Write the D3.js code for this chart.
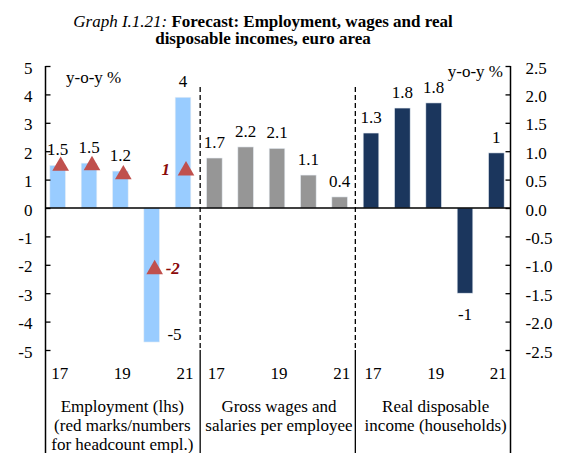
<!DOCTYPE html>
<html>
<head>
<meta charset="utf-8">
<script src="https://cdn.jsdelivr.net/npm/d3@7"></script>
<style>
  body { margin: 0; background: #fff; }
  svg { display: block; }
  svg text { font-family: "Liberation Serif", "Times New Roman", "DejaVu Serif", serif !important; fill: #000; }
</style>
</head>
<body>
<svg id="chart" width="561" height="453" font-family="Liberation Serif, serif"></svg>
<script>
// ---- data ----
const years = ["17", "18", "19", "20", "21"];
const yearTicks = ["17", "19", "21"];
const groups = ["emp", "wage", "rdi"];
const employment = [1.5, 1.58, 1.3, -4.72, 3.9];          // lhs
const employmentLabels = ["1.5", "1.5", "1.2", "-5", "4"];
const headcount = [1.53, 1.55, 1.23, -2.11, 1.37];        // lhs, red triangles
const headcountLabels = ["", "", "", "-2", "1"];
const wages = [1.76, 2.15, 2.1, 1.16, 0.39];              // lhs
const wageLabels = ["1.7", "2.2", "2.1", "1.1", "0.4"];
const income = [1.32, 1.76, 1.85, -1.5, 0.97];            // rhs
const incomeLabels = ["1.3", "1.8", "1.8", "-1", "1"];
const leftTicks = [5, 4, 3, 2, 1, 0, -1, -2, -3, -4, -5];
const rightTicks = [2.5, 2.0, 1.5, 1.0, 0.5, 0.0, -0.5, -1.0, -1.5, -2.0, -2.5];
const groupTitles = [
  ["Employment (lhs)", "(red marks/numbers", "for headcount empl.)"],
  ["Gross wages and", "salaries per employee"],
  ["Real disposable", "income (households)"]
];
const titleItalic = "Graph I.1.21: ";
const titleBold1 = "Forecast: Employment, wages and real";
const titleBold2 = "disposable incomes, euro area";

// ---- layout ----
const svg = d3.select("#chart");
const W = 561, H = 453;
const axL = 45.5, axR = 510.5, yTop = 66, yBot = 350;
const FONT = "'Liberation Serif', 'Times New Roman', serif";

const keys = [];
groups.forEach(g => years.forEach(y => keys.push(g + y)));
const x = d3.scaleBand().domain(keys).range([42, 512]).paddingInner(0.5).paddingOuter(0.25);
const yL = d3.scaleLinear().domain([-5, 5]).range([yBot, yTop]);
const yR = d3.scaleLinear().domain([-2.5, 2.5]).range([yBot, yTop]);

const colors = { emp: "#99CCFF", wage: "#969696", rdi: "#1B365D" };
const hyph = f => (v => f(v).replace("\u2212", "-"));

// title
const t1 = svg.append("text").attr("x", 263).attr("y", 27).attr("text-anchor", "middle")
  .style("font-size", "17px").style("font-family", FONT);
t1.append("tspan").style("font-style", "italic").text(titleItalic);
t1.append("tspan").style("font-weight", "bold").text(titleBold1);
svg.append("text").attr("x", 263).attr("y", 44).attr("text-anchor", "middle")
  .style("font-size", "17px").style("font-family", FONT).style("font-weight", "bold").text(titleBold2);

// series table
const series = [
  { g: "emp", vals: employment, labels: employmentLabels, y: yL },
  { g: "wage", vals: wages, labels: wageLabels, y: yL },
  { g: "rdi", vals: income, labels: incomeLabels, y: yR }
];

series.forEach(s => {
  const data = s.vals.map((v, i) => ({ key: s.g + years[i], v, label: s.labels[i] }));
  svg.append("g").selectAll("rect").data(data).join("rect")
    .attr("x", d => x(d.key))
    .attr("width", x.bandwidth())
    .attr("y", d => s.y(Math.max(0, d.v)))
    .attr("height", d => Math.abs(s.y(d.v) - s.y(0)))
    .attr("fill", colors[s.g])
    .attr("stroke", "#e8eef5").attr("stroke-width", 0.6);
  svg.append("g").selectAll("text").data(data).join("text")
    .attr("x", d => d.v < 0 ? (s.g === "emp" ? x(d.key) + x.bandwidth() + 15 : x(d.key) + x.bandwidth() / 2) : x(d.key) + x.bandwidth() / 2)
    .attr("y", d => d.v >= 0 ? s.y(d.v) - 10 : (s.g === "emp" ? s.y(d.v) - 2 : s.y(d.v) + 27))
    .attr("text-anchor", "middle")
    .style("font-size", "17px").style("font-family", FONT)
    .text(d => d.label);
});

// zero line
svg.append("line").attr("x1", axL).attr("x2", axR).attr("y1", yL(0)).attr("y2", yL(0))
  .attr("stroke", "#000").attr("stroke-width", 1.5);

// separators
const sepX = [x("wage17") - x.step() * x.paddingInner() / 2 + 1.5, x("rdi17") - x.step() * x.paddingInner() / 2];
sepX.forEach(sx => {
  svg.append("line").attr("x1", sx).attr("x2", sx).attr("y1", 87).attr("y2", yBot)
    .attr("stroke", "#000").attr("stroke-width", 1.3).attr("stroke-dasharray", "5,3");
  svg.append("line").attr("x1", sx).attr("x2", sx).attr("y1", yBot).attr("y2", H)
    .attr("stroke", "#000").attr("stroke-width", 1.3);
});

// headcount triangles
const hcData = headcount.map((v, i) => ({ key: "emp" + years[i], v, label: headcountLabels[i] }));
svg.append("g").selectAll("path").data(hcData).join("path")
  .attr("d", d3.symbol().type(d3.symbolTriangle).size(120))
  .attr("transform", d => `translate(${x(d.key) + x.bandwidth() / 2 + 3},${yL(d.v) + 1.5})`)
  .attr("fill", "#C0504D");
svg.append("g").selectAll("text").data(hcData.filter(d => d.label)).join("text")
  .attr("x", d => d.v < 0 ? x(d.key) + x.bandwidth() / 2 + 14 : x(d.key) + x.bandwidth() / 2 - 13)
  .attr("y", d => yL(d.v) + 6)
  .attr("text-anchor", d => d.v < 0 ? "start" : "end")
  .style("font-size", "17px").style("font-family", FONT)
  .style("font-weight", "bold").style("font-style", "italic")
  .style("fill", "#8B0A0A")
  .text(d => d.label);

// axes
const gl = svg.append("g").attr("transform", `translate(${axL},0)`)
  .call(d3.axisLeft(yL).tickValues(leftTicks).tickSize(-5).tickPadding(13).tickFormat(hyph(d3.format("d"))));
gl.attr("font-family", null).attr("font-size", null);
gl.select(".domain").remove();
gl.selectAll("text").style("font-size", "17px").style("font-family", FONT).attr("dy", "0.42em");
gl.selectAll("line").attr("stroke-width", 1.3);
svg.append("line").attr("x1", axL).attr("x2", axL).attr("y1", yTop).attr("y2", H)
  .attr("stroke", "#000").attr("stroke-width", 1.5);

const gr = svg.append("g").attr("transform", `translate(${axR},0)`)
  .call(d3.axisRight(yR).tickValues(rightTicks).tickSize(-5).tickPadding(15).tickFormat(hyph(d3.format(".1f"))));
gr.attr("font-family", null).attr("font-size", null);
gr.select(".domain").remove();
gr.selectAll("text").style("font-size", "17px").style("font-family", FONT).attr("dy", "0.42em");
gr.selectAll("line").attr("stroke-width", 1.3);
svg.append("line").attr("x1", axR).attr("x2", axR).attr("y1", yTop).attr("y2", H)
  .attr("stroke", "#000").attr("stroke-width", 1.5);

// unit labels
svg.append("text").attr("x", 66).attr("y", 83).style("font-size", "17px").style("font-family", FONT).text("y-o-y %");
svg.append("text").attr("x", 503).attr("y", 77).attr("text-anchor", "end").style("font-size", "17px").style("font-family", FONT).text("y-o-y %");

// category labels
groups.forEach(g => {
  yearTicks.forEach(yv => {
    svg.append("text").attr("x", x(g + yv) + x.bandwidth() / 2 + 2).attr("y", 379)
      .attr("text-anchor", "middle").style("font-size", "17px").style("font-family", FONT).text(yv);
  });
});

// group titles
groupTitles.forEach((lines, gi) => {
  const g = groups[gi];
  const cx = (x(g + years[0]) + x(g + years[4]) + x.bandwidth()) / 2 + 2;
  lines.forEach((ln, li) => {
    svg.append("text").attr("x", cx).attr("y", 412 + li * 19)
      .attr("text-anchor", "middle").style("font-size", "17px").style("font-family", FONT).text(ln);
  });
});
</script>
</body>
</html>
